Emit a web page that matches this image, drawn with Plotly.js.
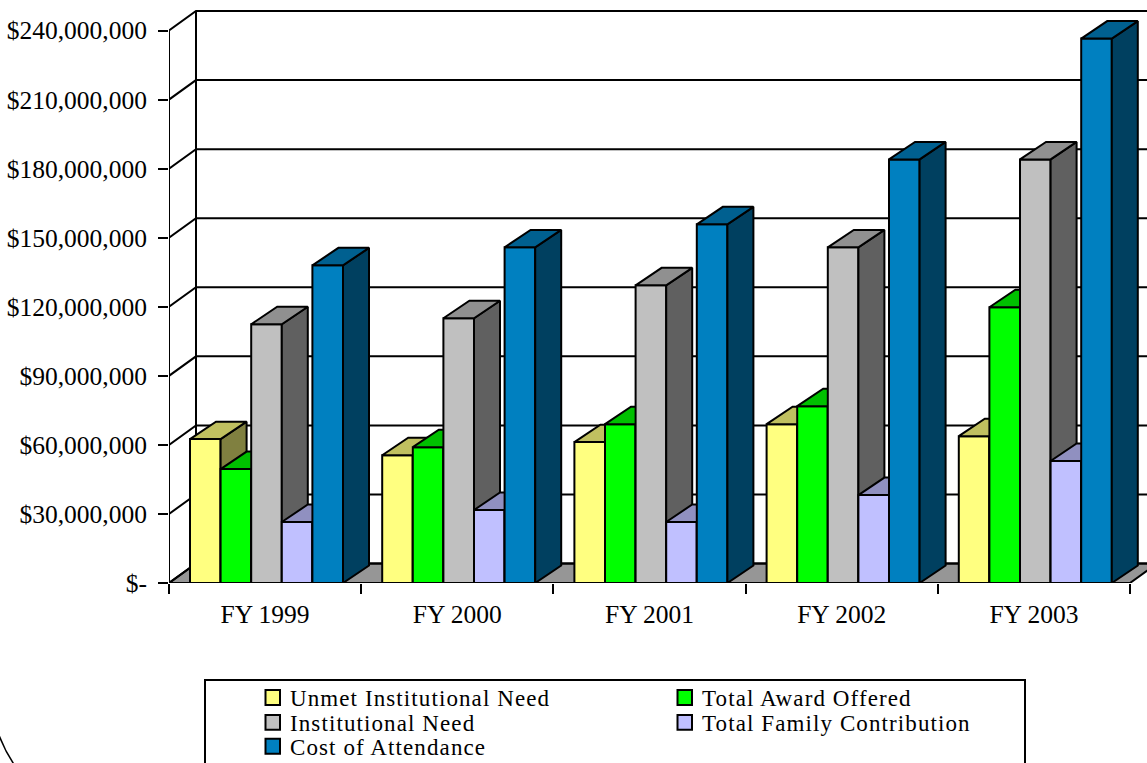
<!DOCTYPE html>
<html>
<head>
<meta charset="utf-8">
<script src="https://cdn.plot.ly/plotly-3.0.1.min.js"></script>
<style>
html,body{margin:0;padding:0;background:#fff;overflow:hidden}
#chart{width:1147px;height:763px}
.annotation-text{letter-spacing:1.1px}
</style>
</head>
<body>
<div id="chart"></div>
<script>
var categories = ['FY 1999','FY 2000','FY 2001','FY 2002','FY 2003'];
var unmetNeed   = [62.5, 55.5, 61.2, 69.0, 63.8];
var totalAward  = [49.5, 59.0, 69.0, 76.8, 119.8];
var instNeed    = [112.4, 115.0, 129.3, 145.8, 184.0];
var familyContr = [26.5, 31.7, 26.5, 38.2, 53.0];
var costAttend  = [138.0, 145.8, 155.8, 184.0, 236.5];
var seriesNames = ['Unmet Institutional Need','Total Award Offered','Institutional Need','Total Family Contribution','Cost of Attendance'];
var tickValues  = [0,30,60,90,120,150,180,210,240];
var tickLabels  = ['$-','$30,000,000','$60,000,000','$90,000,000','$120,000,000','$150,000,000','$180,000,000','$210,000,000','$240,000,000'];
var frontColors = ['#FFFF80','#00FF00','#C0C0C0','#C0C0FF','#0080C0'];
var topColors   = ['#C0C060','#00C000','#909090','#9090C0','#006090'];
var sideColors  = ['#808040','#008000','#606060','#606080','#004060'];

var seriesValues = [unmetNeed,totalAward,instNeed,familyContr,costAttend];

var W=1147,H=763,L=169,BASE=583.5,CAT=192.2,PXM=2.304;
var xMax=(W-L)/CAT, yMax=BASE/PXM;
var wallDx=27/CAT, wallDy=19.5/PXM, barDx=26/CAT, barDy=17.5/PXM;
var barStart=21/CAT, barW=30.6/CAT, EDGE=2;
var INK='#000000';

function ax(extra){return Object.assign({visible:false,fixedrange:true},extra);}
var layout={
  width:W,height:H,
  margin:{l:L,r:0,t:0,b:H-BASE,pad:0},
  paper_bgcolor:'#fff',plot_bgcolor:'rgba(0,0,0,0)',
  barmode:'overlay',showlegend:false,hovermode:false,
  font:{family:'"Liberation Serif","Times New Roman",serif',color:'#000',size:25},
  xaxis:{type:'category',categoryorder:'array',categoryarray:categories,range:[-0.5,-0.5+xMax],
    tickson:'boundaries',ticks:'outside',ticklen:10,tickwidth:2,tickcolor:INK,showgrid:false,zeroline:false,showline:false,
    tickfont:{size:25.5,family:'"Liberation Serif"'},ticklabelstandoff:13,automargin:false,fixedrange:true},
  yaxis:{range:[0,yMax],tickmode:'array',tickvals:tickValues,ticktext:tickLabels,ticks:'outside',ticklen:10,tickwidth:2,tickcolor:INK,
    showgrid:false,zeroline:false,showline:false,tickfont:{size:25.5,family:'"Liberation Serif"'},ticklabelstandoff:6,automargin:false,fixedrange:true},
  xaxis2:ax({range:[0,xMax],overlaying:'x',anchor:'y2'}),
  yaxis2:ax({range:[0,yMax],overlaying:'y',anchor:'x2'})
};

var traces=[];
// main axis carrier for the category labels
traces.push({type:'scatter',mode:'none',x:categories,y:categories.map(function(){return 0;}),xaxis:'x',yaxis:'y',hoverinfo:'skip',showlegend:false});

// floor
traces.push({type:'scatter',mode:'lines',x:[0,5,5+wallDx,wallDx,0],y:[0,0,wallDy,wallDy,0],fill:'toself',fillcolor:'#969696',
  line:{color:INK,width:2},xaxis:'x2',yaxis:'y2',cliponaxis:false,hoverinfo:'skip',showlegend:false});

// back wall: gridlines, diagonals, edges
var gx=[],gy=[];
tickValues.forEach(function(v){
  gx.push(0,wallDx,5+wallDx,null);
  gy.push(v,v+wallDy,v+wallDy,null);
});
gx.push(0,0,null,wallDx,wallDx);
gy.push(0,tickValues[tickValues.length-1],null,wallDy,tickValues[tickValues.length-1]+wallDy);
traces.push({type:'scatter',mode:'lines',x:gx,y:gy,line:{color:INK,width:2},xaxis:'x2',yaxis:'y2',cliponaxis:false,hoverinfo:'skip',showlegend:false});

seriesValues.forEach(function(vals,k){
  var id=k+3, xa='x'+id, ya='y'+id;
  layout['xaxis'+id]=ax({range:[0,xMax],overlaying:'x',anchor:'y'+id});
  layout['yaxis'+id]=ax({range:[0,yMax],overlaying:'y',anchor:'x'+id});
  var centers=vals.map(function(v,i){return i+barStart+barW*(k+0.5);});
  traces.push({type:'bar',name:seriesNames[k],x:centers,y:vals,width:barW,marker:{color:frontColors[k],line:{color:INK,width:EDGE}},
    xaxis:xa,yaxis:ya,cliponaxis:false,showlegend:false});
  var sx=[],sy=[],tx=[],ty=[];
  vals.forEach(function(v,i){
    var x0=i+barStart+barW*k,x1=x0+barW;
    sx.push(x1,x1+barDx,x1+barDx,x1,x1,null);
    sy.push(0,barDy,v+barDy,v,0,null);
    tx.push(x0,x1,x1+barDx,x0+barDx,x0,null);
    ty.push(v,v,v+barDy,v+barDy,v,null);
  });
  traces.push({type:'scatter',mode:'lines',name:seriesNames[k]+' side',x:sx,y:sy,fill:'toself',fillcolor:sideColors[k],line:{color:INK,width:EDGE},xaxis:xa,yaxis:ya,hoverinfo:'skip',showlegend:false});
  traces.push({type:'scatter',mode:'lines',name:seriesNames[k]+' top',x:tx,y:ty,fill:'toself',fillcolor:topColors[k],line:{color:INK,width:EDGE},xaxis:xa,yaxis:ya,hoverinfo:'skip',showlegend:false});
});

// legend drawn in pixel positions of the page
function px(x){return (x-L)/(W-L);}
function py(y){return (BASE-y)/BASE;}
var legendCols=[265.5,677.5], legendRows=[698,723,747];
var order=[[0,0,0],[1,1,0],[2,0,1],[3,1,1],[4,0,2]];
var shapes=[{type:'rect',xref:'paper',yref:'paper',x0:px(205),x1:px(1025),y0:py(680.5),y1:py(775),line:{color:INK,width:2},fillcolor:'#fff',layer:'above'},
  {type:'path',xref:'paper',yref:'paper',path:'M '+px(-2)+' '+py(733)+' Q '+px(4)+' '+py(750)+' '+px(14)+' '+py(765),line:{color:INK,width:1.5},layer:'above'}];
var annotations=[];
order.forEach(function(o){
  var sx=legendCols[o[1]], cy=legendRows[o[2]];
  shapes.push({type:'rect',xref:'paper',yref:'paper',x0:px(sx),x1:px(sx+14.5),y0:py(cy-7.5),y1:py(cy+7.5),fillcolor:frontColors[o[0]],line:{color:INK,width:2},layer:'above'});
  annotations.push({xref:'paper',yref:'paper',x:px(sx+23.5),y:py(cy+1.5),xanchor:'left',yanchor:'middle',showarrow:false,text:seriesNames[o[0]],font:{size:23,family:'"Liberation Serif"',color:'#000'},borderpad:0});
});
layout.shapes=shapes;
layout.annotations=annotations;

Plotly.newPlot('chart',traces,layout,{displayModeBar:false,staticPlot:true});
</script>
</body>
</html>
